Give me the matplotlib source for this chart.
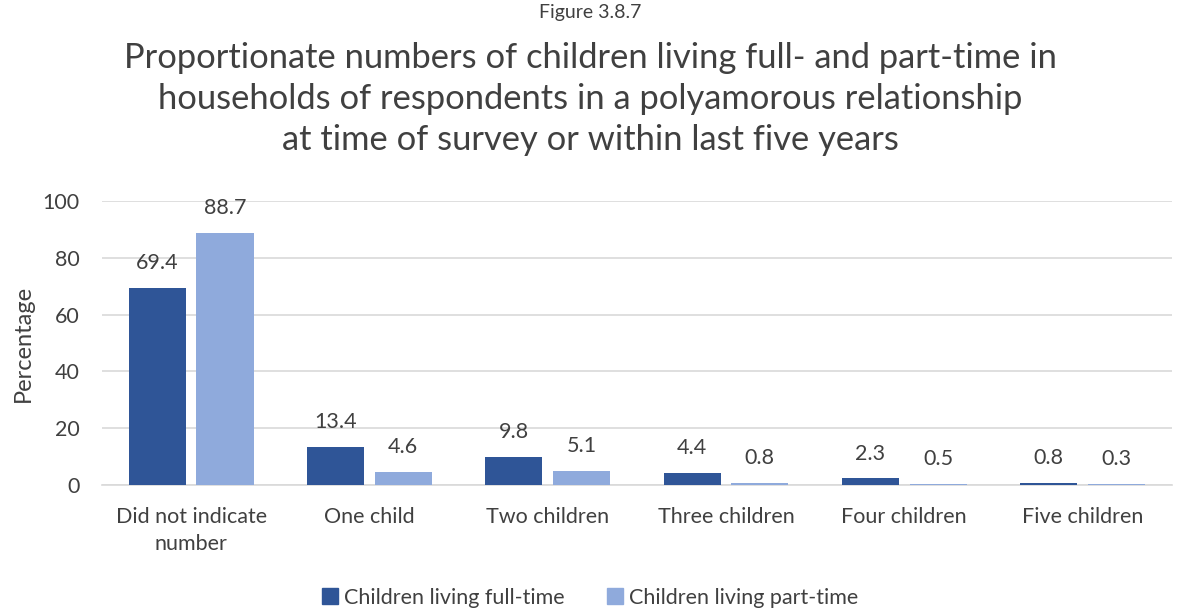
import matplotlib
matplotlib.use("Agg")
import matplotlib.pyplot as plt
import numpy as np
from matplotlib.patches import Patch

plt.rcParams['font.family'] = ['Lato', 'DejaVu Sans']

categories = ["Did not indicate\nnumber", "One child", "Two children", "Three children", "Four children", "Five children"]
full_time = [69.4, 13.4, 9.8, 4.4, 2.3, 0.8]
part_time = [88.7, 4.6, 5.1, 0.8, 0.5, 0.3]
series_names = ["Children living full-time", "Children living part-time"]
colors = ["#2F5597", "#8FAADC"]
text_color = "#404040"

fs = 15.5

fig = plt.figure(figsize=(11.8, 6.13), dpi=100)
ax = fig.add_axes([0.0864, 0.2088, 0.9066, 0.4632])

x = np.arange(len(categories))
w = 0.32
off = 0.19
ax.bar(x - off, full_time, width=w, color=colors[0], zorder=3)
ax.bar(x + off, part_time, width=w, color=colors[1], zorder=3)

for xi, v in zip(x, full_time):
    ax.text(xi - off, v + 5.2, f"{v:.1f}", ha="center", va="bottom", fontsize=fs, color=text_color)
for xi, v in zip(x, part_time):
    ax.text(xi + off, v + 5.2, f"{v:.1f}", ha="center", va="bottom", fontsize=fs, color=text_color)

ax.set_xlim(-0.5, len(categories) - 0.5)
ax.set_ylim(0, 100)
ax.set_yticks(np.arange(0, 101, 20))
ax.yaxis.grid(True, color="#D9D9D9", linewidth=1.2, zorder=0)
for s in ["top", "right", "left"]:
    ax.spines[s].set_visible(False)
ax.spines["bottom"].set_color("#D9D9D9")
ax.spines["bottom"].set_linewidth(1.2)
ax.tick_params(axis="both", length=0, labelsize=fs, labelcolor=text_color)
ax.tick_params(axis="y", pad=16)
ax.tick_params(axis="x", pad=16)
ax.set_xticklabels([])
ax.set_xticks(x)
ax.set_xticklabels(categories, linespacing=1.45)
ax.set_ylabel("Percentage", fontsize=17, color=text_color, labelpad=6)

fig.text(0.5, 0.979, "Figure 3.8.7", ha="center", va="center", fontsize=14, color=text_color)
fig.text(0.5, 0.8385, "Proportionate numbers of children living full- and part-time in\nhouseholds of respondents in a polyamorous relationship\nat time of survey or within last five years",
         ha="center", va="center", fontsize=24.8, color=text_color, linespacing=1.36)

handles = [Patch(color=c) for c in colors]
fig.legend(handles, series_names, loc="center", bbox_to_anchor=(0.5, 0.025), ncol=2, frameon=False,
           fontsize=fs, labelcolor=text_color, handlelength=0.75, handleheight=0.75, handletextpad=0.25, columnspacing=2.0)

fig.savefig("out.png", dpi=100)
